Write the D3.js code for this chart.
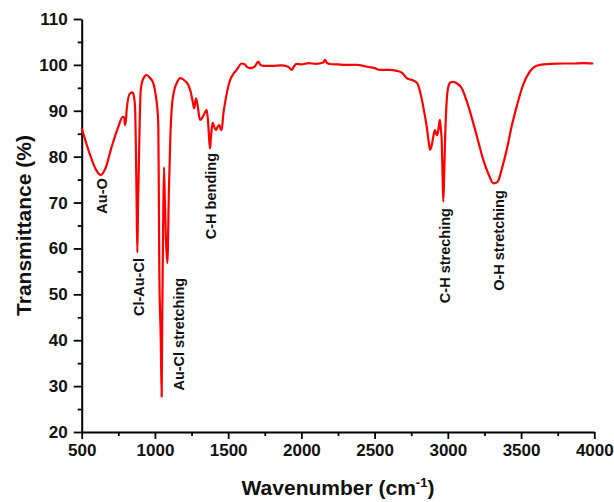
<!DOCTYPE html>
<html>
<head>
<meta charset="utf-8">
<script src="https://cdn.jsdelivr.net/npm/d3@7"></script>
<style>
  body { margin: 0; background: #fff; }
  svg { display: block; font-family: "Liberation Sans", Arial, sans-serif; font-weight: bold; }
</style>
</head>
<body>
<div id="chart"></div>
<script>
// FTIR spectrum
const wavenumber = [500, 557, 600, 630, 660, 705, 750, 780, 790, 796, 802, 807, 830, 848, 858, 864, 870, 875, 880, 885, 893, 903, 920, 944, 965, 989, 1005, 1015, 1023, 1027, 1030, 1040, 1046, 1050, 1056, 1062, 1068, 1075, 1085, 1095, 1105, 1114, 1130, 1149, 1171, 1190, 1210, 1228, 1245, 1258, 1268, 1280, 1290, 1308, 1319, 1340, 1353, 1362, 1370, 1376, 1382, 1394, 1405, 1417, 1428, 1440, 1448, 1456, 1466, 1478, 1495, 1513, 1535, 1558, 1592, 1610, 1630, 1649, 1680, 1706, 1720, 1740, 1800, 1860, 1910, 1934, 1950, 1968, 2000, 2050, 2100, 2150, 2161, 2175, 2195, 2250, 2300, 2378, 2450, 2500, 2537, 2600, 2651, 2690, 2719, 2745, 2764, 2790, 2810, 2821, 2840, 2856, 2868, 2878, 2890, 2901, 2912, 2920, 2928, 2940, 2946, 2952, 2958, 2964, 2969, 2975, 2981, 2990, 3003, 3020, 3037, 3060, 3095, 3130, 3174, 3210, 3242, 3280, 3310, 3330, 3345, 3370, 3402, 3435, 3470, 3505, 3538, 3580, 3629, 3700, 3788, 3850, 3920, 3993];
const transmittance = [86.2, 80.4, 77.0, 76.0, 77.3, 82.2, 86.5, 88.7, 88.5, 86.9, 88.0, 90.2, 93.8, 94.0, 92.8, 91.0, 82, 70, 59.1, 70, 82.9, 94.5, 97.0, 97.8, 97.2, 96.0, 93.5, 91.0, 87, 70, 55, 40, 27.7, 45, 65, 77.7, 70, 62, 56.8, 72, 84, 90.2, 94.2, 96.0, 97.1, 96.9, 96.4, 95.6, 94, 92.0, 90.5, 92.7, 91.5, 88.0, 88.3, 89.5, 90.2, 88, 84, 81.8, 84, 87.4, 86.5, 85.8, 86.5, 86.9, 86.0, 85.8, 89, 91.6, 94.5, 96.7, 98.0, 98.9, 100.3, 100.2, 99.5, 99.3, 99.6, 100.7, 100.0, 99.8, 99.8, 99.9, 99.6, 98.9, 99.7, 100.2, 100.1, 100.4, 100.2, 100.5, 101.1, 100.4, 100.2, 100.1, 100.0, 100.0, 99.6, 99.3, 98.9, 98.9, 98.7, 98.2, 97.1, 96.8, 96.6, 96.0, 94.2, 92.7, 89.5, 86.5, 83.5, 81.5, 82.5, 84.4, 85.8, 85.0, 84.7, 87, 88.0, 86, 83.6, 76, 70.2, 76, 83.6, 91, 95.2, 96.2, 96.3, 96.0, 94.9, 92.0, 87.3, 83.0, 79.3, 76.0, 74.2, 74.3, 74.8, 77.5, 81.5, 86.5, 90.9, 94.8, 97.4, 99.3, 100.0, 100.2, 100.3, 100.3, 100.4, 100.3];

// band assignments: label text, wavenumber, transmittance where the label starts
const bandNames = ["Au-O", "Cl-Au-Cl", "Au-Cl stretching", "C-H bending", "C-H streching", "O-H stretching"];
const bandWave = [634, 893, 1164, 1381, 2981, 3345];
const bandTop = [75.3, 57.9, 53.6, 80.8, 68.8, 72.7];

const xTicks = [500, 1000, 1500, 2000, 2500, 3000, 3500, 4000];
const yTicks = [20, 30, 40, 50, 60, 70, 80, 90, 100, 110];

const W = 614, H = 502;
const margin = { top: 19, right: 19.7, bottom: 70, left: 81.7 };

const x = d3.scaleLinear().domain([500, 4000]).range([margin.left, W - margin.right]);
const y = d3.scaleLinear().domain([20, 110]).range([H - margin.bottom, margin.top]);

const svg = d3.select("#chart").append("svg")
    .attr("width", W)
    .attr("height", H);

// minor ticks first, majors on top
svg.append("g")
    .attr("transform", `translate(0,${y(20)})`)
    .call(d3.axisBottom(x).tickValues(d3.range(750, 4000, 500)).tickSize(4).tickFormat(""))
    .call(g => g.select(".domain").remove())
    .selectAll("line").attr("stroke-width", 1.8);

svg.append("g")
    .attr("transform", `translate(${x(500)},0)`)
    .call(d3.axisLeft(y).tickValues(d3.range(25, 110, 10)).tickSize(4).tickFormat(""))
    .call(g => g.select(".domain").remove())
    .selectAll("line").attr("stroke-width", 1.8);

const xAxis = svg.append("g")
    .attr("transform", `translate(0,${y(20)})`)
    .call(d3.axisBottom(x).tickValues(xTicks).tickFormat(d3.format("d")).tickSize(7).tickSizeOuter(0).tickPadding(5));

const yAxis = svg.append("g")
    .attr("transform", `translate(${x(500)},0)`)
    .call(d3.axisLeft(y).tickValues(yTicks).tickFormat(d3.format("d")).tickSize(8).tickSizeOuter(0).tickPadding(6));

[xAxis, yAxis].forEach(g => {
  g.select(".domain").attr("stroke-width", 2);
  g.selectAll("line").attr("stroke-width", 1.8);
  g.selectAll("text")
    .attr("font-family", "'Liberation Sans', Arial, sans-serif")
    .attr("font-weight", "bold")
    .attr("font-size", 17)
    .attr("fill", "#111");
});

// spectrum
const line = d3.line()
    .x((d, i) => x(wavenumber[i]))
    .y((d, i) => y(transmittance[i]))
    .curve(d3.curveMonotoneX);

svg.append("path")
    .datum(transmittance)
    .attr("d", line)
    .attr("fill", "none")
    .attr("stroke", "#ff0000")
    .attr("stroke-width", 2.2)
    .attr("stroke-linejoin", "round");

// band labels
svg.append("g")
  .selectAll("text")
  .data(bandNames)
  .join("text")
    .attr("transform", (d, i) => `translate(${x(bandWave[i])},${y(bandTop[i])}) rotate(-90)`)
    .attr("dy", "0.36em")
    .attr("text-anchor", "end")
    .attr("font-size", 14.5)
    .attr("fill", "#111")
    .text(d => d);

// axis titles
svg.append("text")
    .attr("transform", `translate(31,${(y(20) + y(110)) / 2}) rotate(-90)`)
    .attr("text-anchor", "middle")
    .attr("font-size", 21)
    .attr("fill", "#111")
    .text("Transmittance (%)");

const xt = svg.append("text")
    .attr("x", (x(500) + x(4000)) / 2)
    .attr("y", 495)
    .attr("text-anchor", "middle")
    .attr("font-size", 21)
    .attr("fill", "#111");
xt.append("tspan").text("Wavenumber (cm");
xt.append("tspan").attr("font-size", 13).attr("dy", -8).text("-1");
xt.append("tspan").attr("dy", 8).text(")");
</script>
</body>
</html>
